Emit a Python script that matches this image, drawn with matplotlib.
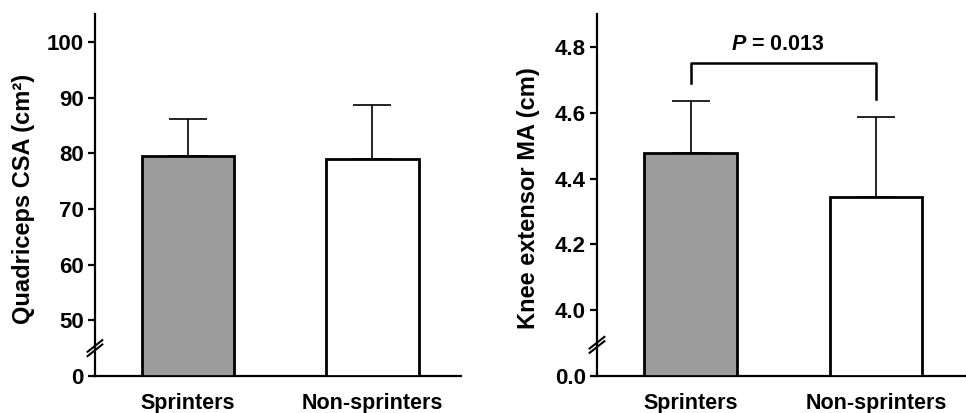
import numpy as np
import matplotlib.pyplot as plt

plt.rcParams['font.family'] = ['Liberation Sans', 'DejaVu Sans']
plt.rcParams['font.weight'] = 'bold'
plt.rcParams['mathtext.fontset'] = 'custom'
plt.rcParams['mathtext.it'] = 'Liberation Sans:italic:bold'
plt.rcParams['mathtext.rm'] = 'Liberation Sans:bold'

groups = ['Sprinters', 'Non-sprinters']
bar_colors = ['#9c9c9c', 'white']

csa_mean = [79.5, 78.9]
csa_sd = [6.7, 9.8]
csa_ticks = [40, 50, 60, 70, 80, 90, 100]
csa_ticklabels = ['0', '50', '60', '70', '80', '90', '100']

ma_mean = [4.478, 4.345]
ma_sd = [0.158, 0.242]
ma_ticks = [3.8, 4.0, 4.2, 4.4, 4.6, 4.8]
ma_ticklabels = ['0.0', '4.0', '4.2', '4.4', '4.6', '4.8']
p_text = r'$P$ = 0.013'
bracket_y = 4.752
bracket_legs = [4.691, 4.641]

fig = plt.figure(figsize=(9.66, 4.13), dpi=100)
ax1 = fig.add_axes([0.0983, 0.0896, 0.3789, 0.8765])
ax2 = fig.add_axes([0.618, 0.0896, 0.381, 0.8765])


def draw_panel(ax, mean, sd, base, top, ticks, ticklabels, ylabel, break_y):
    x = np.arange(len(groups))
    heights = np.array(mean) - base
    ax.bar(x, heights, bottom=base, width=0.5, color=bar_colors,
           edgecolor='black', linewidth=2, zorder=3)
    ax.errorbar(x, mean, yerr=[np.zeros(len(sd)), sd], fmt='none',
                ecolor='black', elinewidth=1.2, capsize=13.5, capthick=1.2, zorder=2)
    ax.set_ylim(base, top)
    ax.set_xlim(-0.505, 1.48)
    ax.set_yticks(ticks)
    ax.set_yticklabels(ticklabels)
    ax.set_xticks(x)
    ax.set_xticklabels(groups)
    ax.spines['top'].set_visible(False)
    ax.spines['right'].set_visible(False)
    ax.spines['left'].set_linewidth(1.6)
    ax.spines['bottom'].set_linewidth(1.6)
    ax.tick_params(axis='y', direction='out', length=5, width=1.6, labelsize=16, pad=3)
    ax.tick_params(axis='x', length=0, labelsize=15.5, pad=12)
    ax.set_ylabel(ylabel, fontsize=17, fontweight='bold')
    # axis break marks
    for dy in (-0.006, 0.006):
        ax.plot([-0.02, 0.02], [break_y + dy - 0.016, break_y + dy + 0.016],
                transform=ax.transAxes, color='black', lw=1.5, clip_on=False, zorder=5)


draw_panel(ax1, csa_mean, csa_sd, 40, 105, csa_ticks, csa_ticklabels,
           'Quadriceps CSA (cm²)', 0.077)
ax1.yaxis.set_label_coords(-0.164, 0.49)

draw_panel(ax2, ma_mean, ma_sd, 3.8, 4.9, ma_ticks, ma_ticklabels,
           'Knee extensor MA (cm)', 0.086)
ax2.yaxis.set_label_coords(-0.155, 0.49)

ax2.plot([0, 0, 1, 1], [bracket_legs[0], bracket_y, bracket_y, bracket_legs[1]],
         color='black', lw=1.8, zorder=4)
ax2.text(0.47, 4.808, p_text, ha='center', va='center', fontsize=15.5, fontweight='bold')

fig.savefig('out.png', dpi=100)
